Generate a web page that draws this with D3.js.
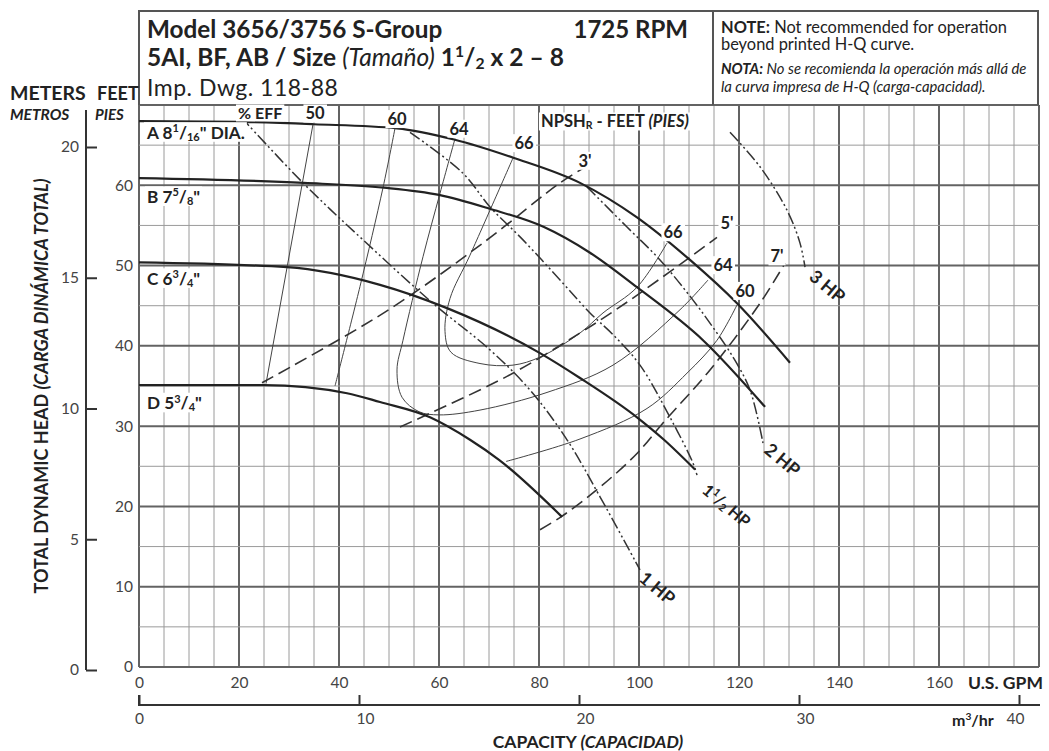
<!DOCTYPE html>
<meta charset="utf-8">
<style>
body { margin: 0; background: #fff; }
text { font-family: Lato, "Open Sans", sans-serif; fill: #222; }
.grid line { stroke: #9a9a9a; stroke-width: 1; }
.grid line.major { stroke: #636363; stroke-width: 2; }
.axis text { font-size: 15.5px; fill: #444; }
.axis path, .axis line { stroke: #333; stroke-width: 2; }
.head { fill: none; stroke: #222; stroke-width: 2.2; }
.eff { fill: none; stroke: #444; stroke-width: 1; }
.npsh { fill: none; stroke: #333; stroke-width: 1.6; stroke-dasharray: 13,6; }
.hp { fill: none; stroke: #333; stroke-width: 1.5; stroke-dasharray: 12,3,2,3,2,3; }
.lbl { font-weight: 700; }
</style>
<body>
<div id="chart"></div>
<script src="https://cdn.jsdelivr.net/npm/d3@7"></script>
<script>

// ---- data (GPM, feet) ----
var gpmTicks = [0, 20, 40, 60, 80, 100, 120, 140, 160];
var feetTicks = [0, 10, 20, 30, 40, 50, 60];
var meterTicks = [0, 5, 10, 15, 20];
var m3hrTicks = [0, 10, 20, 30, 40];

var headA = [[0,68],[20,67.9],[35,67.6],[51.6,67.1],[63,65.7],[75,63.4],[88.2,60.3],[99.6,56],[110.2,50.7],[119.6,45.3],[130.2,37.9]];
var headB = [[0,60.9],[33,60.3],[49,59.7],[60,58.8],[70,57.1],[81,54.8],[90.2,51.6],[99.6,47.3],[112.8,40.7],[125.2,32.4]];
var headC = [[0,50.4],[29.6,49.8],[48.2,47.6],[61.6,44.7],[80.2,39.1],[88.2,36],[99.6,31.1],[105,28.3],[111.2,24.6]];
var headD = [[0,35.1],[25,35.1],[41.6,34.1],[48.2,33],[58.2,31.1],[66.2,28.3],[72,25.8],[84.6,18.7]];

var eff50 = [[34.8,67.6],[25.4,35.3]];
var eff60a = [[51.2,67.1],[48.8,59.7],[44.2,47.4],[39.2,35]];
var eff60b = [[73.4,25.6],[88.2,28.4],[101.6,32.2],[109.6,36.6],[115.6,40.7],[119.6,45.1]];
var eff64 = [[63.2,65.8],[60.2,59],[56.8,51.1],[52.8,40.7],[51.6,37],[52.6,33.6],[56,31.8],[60,31.4],[68.2,32],[81.6,34.2],[94.8,37.6],[108.2,44.5],[113.8,48.2]];
var eff66 = [[74.8,63.4],[66.2,51.3],[62.2,45.9],[61.2,41.8],[62.4,39.2],[68.2,37.8],[74.8,37.6],[80.2,38.6],[88.2,41.6],[92.8,44.1],[99.6,47.3],[105.6,52.8]];

var npsh3 = [[24.6,35.4],[49.2,44.2],[69.2,53],[84.2,60.3],[88.8,62.1]];
var npsh5 = [[52.2,29.9],[73.6,36.2],[88.2,41.6],[98.2,45.7],[115.6,53.5]];
var npsh7 = [[80.2,17.1],[84.4,18.7],[92.2,22.4],[99.6,26.6],[104.8,30.4],[114.2,37],[124.2,45.3],[129.2,50.3]];

var hp1 = [[20.4,68.5],[32.8,60.3],[44.8,53.2],[58.8,45.3],[70.2,39.5],[78.2,34.5],[85.6,28.3],[92.2,21.2],[100.2,12.1]];
var hp15 = [[54.2,66.6],[64.8,61.5],[70.2,57.3],[76.8,53.2],[84.8,47.8],[90.2,44.1],[94.8,41.4],[100.2,37.6],[106.2,31.1],[110.8,25.4],[111.6,23.9]];
var hp2 = [[89.6,59.8],[97.6,54.8],[104.2,50.7],[110.8,45.7],[114.8,42.3],[118.8,38.6],[122.2,34.5],[124.8,27.9]];
var hp3 = [[118.2,66.6],[124.2,62.3],[129.6,56.9],[132.2,52.8],[133.2,49.8]];

// ---- layout ----
var W = 1049, H = 751;
var x = d3.scaleLinear().domain([0, 180]).range([139, 1039]);
var y = d3.scaleLinear().domain([0, 70]).range([667, 105]);
var yM = d3.scaleLinear().domain([0, 20]).range([670, 147]);
var xM = d3.scaleLinear().domain([0, 40]).range([139, 1019]);

var svg = d3.select("#chart").append("svg").attr("width", W).attr("height", H);

// rich text helper: parts = [[text, style]], style: b, i, bi, n, sup, sub
function rich(g, parts, fs) {
  var shift = 0;
  g.style("font-size", fs + "px");
  parts.forEach(function(p) {
    var st = p[1] || "";
    var target = st == "sup" ? -0.38 * fs : st == "sub" ? 0.12 * fs : 0;
    var t = g.append("tspan").text(p[0]).attr("dy", target - shift);
    shift = target;
    if (st == "sup" || st == "sub") t.style("font-size", (fs * 0.64) + "px");
    if (st.indexOf("i") >= 0) t.attr("font-style", "italic");
    if (st == "n" || st == "i") t.attr("font-weight", 400);
    if (st.indexOf("b") >= 0) t.attr("font-weight", 700);
  });
  return g;
}

// ---- grid ----
var grid = svg.append("g").attr("class", "grid");
grid.selectAll(".v").data(d3.range(0, 181, 5)).enter().append("line")
  .attr("class", function(d) { return d % 20 == 0 || d == 180 ? "major" : null; })
  .attr("x1", x).attr("x2", x).attr("y1", y(0)).attr("y2", y(70));
grid.selectAll(".h").data(d3.range(0, 71, 5)).enter().append("line")
  .attr("class", function(d) { return d % 10 == 0 ? "major" : null; })
  .attr("y1", y).attr("y2", y).attr("x1", x(0)).attr("x2", x(180));

// header box
var hdr = svg.append("g").attr("fill", "none").attr("stroke", "#555").attr("stroke-width", 2);
hdr.append("path").attr("d", "M139,105V11H1038V105");
hdr.append("line").attr("x1", 713).attr("x2", 713).attr("y1", 11).attr("y2", 105);

svg.append("text").attr("x", 147).attr("y", 38).attr("font-size", 24.3).attr("font-weight", 700)
  .text("Model 3656/3756 S-Group");
svg.append("text").attr("x", 688).attr("y", 38).attr("font-size", 24).attr("font-weight", 700)
  .attr("text-anchor", "end").text("1725 RPM");
rich(svg.append("text").attr("x", 147).attr("y", 66).attr("font-weight", 700),
  [["5AI, BF, AB / Size ", "b"], ["(Tamaño)", "i"], [" 1", "b"], ["1", "sup"], ["/", "b"], ["2", "sub"], [" x 2 – 8", "b"]], 24.5);
svg.append("text").attr("x", 147).attr("y", 96).attr("font-size", 23).attr("fill", "#333")
  .attr("font-family", "'Open Sans', sans-serif").attr("letter-spacing", 0.5)
  .text("Imp. Dwg. 118-88");

rich(svg.append("text").attr("x", 721).attr("y", 33),
  [["NOTE:", "b"], [" Not recommended for operation", "n"]], 16.4);
svg.append("text").attr("x", 721).attr("y", 50).attr("font-size", 16.4).text("beyond printed H-Q curve.");
rich(svg.append("text").attr("x", 721).attr("y", 74),
  [["NOTA:", "bi"], [" No se recomienda la operación más allá de", "i"]], 14.8);
svg.append("text").attr("x", 721).attr("y", 92).attr("font-size", 14.8).attr("font-style", "italic")
  .text("la curva impresa de H-Q (carga-capacidad).");

// ---- axes ----
svg.append("g").attr("class", "axis").attr("transform", "translate(139,0)")
  .call(d3.axisLeft(y).tickValues(feetTicks).tickSize(0).tickPadding(6))
  .call(function(g) { g.select(".domain").remove(); });

var mAx = svg.append("g").attr("class", "axis").attr("transform", "translate(86,0)")
  .call(d3.axisLeft(yM).tickValues(meterTicks).tickSizeInner(-11).tickSizeOuter(0).tickPadding(7));
mAx.select(".domain").attr("d", "M0,110V" + yM(0));

svg.append("g").attr("class", "axis").attr("transform", "translate(0," + y(0) + ")")
  .call(d3.axisBottom(x).tickValues(gpmTicks).tickSize(0).tickPadding(10))
  .call(function(g) { g.select(".domain").remove(); });

var m3 = svg.append("g").attr("class", "axis").attr("transform", "translate(0,705)")
  .call(d3.axisBottom(xM).tickValues(m3hrTicks).tickSizeInner(-10).tickSizeOuter(0).tickPadding(8));
m3.select(".domain").attr("d", "M139,-10V0H1040");
m3.selectAll(".tick text").attr("dx", function(d) { return d == 40 ? -4 : d == 0 ? 0 : 6; });

svg.append("text").attr("x", 968).attr("y", 689).attr("font-size", 17.5).attr("font-weight", 700).text("U.S. GPM");
rich(svg.append("text").attr("x", 952).attr("y", 726).attr("font-weight", 700),
  [["m", "b"], ["3", "sup"], ["/hr", "b"]], 16);
rich(svg.append("text").attr("x", 588).attr("y", 748).attr("text-anchor", "middle"),
  [["CAPACITY ", "b"], ["(CAPACIDAD)", "bi"]], 17.5);

svg.append("text").attr("x", 10).attr("y", 100).attr("font-size", 19.5).attr("font-weight", 700).text("METERS");
svg.append("text").attr("x", 97).attr("y", 100).attr("font-size", 18).attr("font-weight", 700).text("FEET");
svg.append("text").attr("x", 10).attr("y", 120).attr("font-size", 15.5).attr("font-weight", 700).attr("font-style", "italic").text("METROS");
svg.append("text").attr("x", 95).attr("y", 120).attr("font-size", 15).attr("font-weight", 700).attr("font-style", "italic").text("PIES");
rich(svg.append("text").attr("transform", "translate(48,386) rotate(-90)").attr("text-anchor", "middle"),
  [["TOTAL DYNAMIC HEAD ", "b"], ["(CARGA DINÁMICA TOTAL)", "bi"]], 18);

// ---- curves ----
var line = d3.line().x(function(d) { return x(d[0]); }).y(function(d) { return y(d[1]); })
  .curve(d3.curveCatmullRom.alpha(0.5));
var headLine = d3.line().x(function(d) { return x(d[0]); }).y(function(d) { return y(d[1]); })
  .curve(d3.curveMonotoneX);
var plot = svg.append("g");
[eff50, eff60a, eff60b, eff64, eff66].forEach(function(s) { plot.append("path").attr("class", "eff").attr("d", line(s)); });
[npsh3, npsh5, npsh7].forEach(function(s) { plot.append("path").attr("class", "npsh").attr("d", line(s)); });
[hp1, hp15, hp2, hp3].forEach(function(s) { plot.append("path").attr("class", "hp").attr("d", line(s)); });
[headA, headB, headC, headD].forEach(function(s) { plot.append("path").attr("class", "head").attr("d", headLine(s)); });

// ---- labels on plot ----
function boxed(t) {
  var b = t.node().getBBox();
  svg.insert("rect", function() { return t.node(); })
    .attr("x", b.x - 2).attr("y", b.y + 1).attr("width", b.width + 4).attr("height", b.height - 2).attr("fill", "#fff");
  return t;
}
function plain(s) { return [[s, "b"]]; }

var impLabels = [
  [65.8, [["A 8", "b"], ["1", "sup"], ["/", "b"], ["16", "sub"], ["\" DIA.", "b"]]],
  [57.8, [["B 7", "b"], ["5", "sup"], ["/", "b"], ["8", "sub"], ["\"", "b"]]],
  [47.6, [["C 6", "b"], ["3", "sup"], ["/", "b"], ["4", "sub"], ["\"", "b"]]],
  [32.1, [["D 5", "b"], ["3", "sup"], ["/", "b"], ["4", "sub"], ["\"", "b"]]]
];
impLabels.forEach(function(l) {
  boxed(rich(svg.append("text").attr("class", "lbl").attr("x", x(1.6)).attr("y", y(l[0])), l[1], 17.2));
});

var effTop = [["50", 35.2, 68.2], ["60", 51.6, 67.5], ["64", 64, 66.3], ["66", 77, 64.5]];
effTop.forEach(function(l) {
  boxed(rich(svg.append("text").attr("class", "lbl").attr("text-anchor", "middle").attr("x", x(l[1])).attr("y", y(l[2])), plain(l[0]), 16.5));
});
boxed(rich(svg.append("text").attr("class", "lbl").attr("x", x(19.8)).attr("y", y(68.2)), plain("% EFF"), 16));
boxed(rich(svg.append("text").attr("class", "lbl").attr("x", x(80.4)).attr("y", y(67.2)),
  [["NPSH", "b"], ["R", "sub"], [" - FEET ", "b"], ["(PIES)", "bi"]], 16.5));

var effRight = [["66", 106.8, 53.4], ["64", 116.8, 49.3], ["60", 121.2, 46.1]];
effRight.forEach(function(l) {
  boxed(rich(svg.append("text").attr("class", "lbl").attr("text-anchor", "middle").attr("x", x(l[1])).attr("y", y(l[2])), plain(l[0]), 16.5));
});
var npshLabels = [["3'", 89.2, 62.3], ["5'", 117.6, 54.5], ["7'", 127.6, 50.4]];
npshLabels.forEach(function(l) {
  boxed(rich(svg.append("text").attr("class", "lbl").attr("text-anchor", "middle").attr("x", x(l[1])).attr("y", y(l[2])), plain(l[0]), 16.5));
});

var hpLabels = [
  [99.8, 10.8, 18, [["1 HP", "b"]]],
  [112.4, 21.8, 16.5, [["1", "b"], ["1", "sup"], ["/", "b"], ["2", "sub"], [" HP", "b"]]],
  [124.8, 26.8, 18, [["2 HP", "b"]]],
  [133.8, 48.4, 18, [["3 HP", "b"]]]
];
hpLabels.forEach(function(l) {
  var t = svg.append("text").attr("class", "lbl")
    .attr("transform", "translate(" + x(l[0]) + "," + y(l[1]) + ") rotate(40)");
  rich(t, l[3], l[2]);
});

</script>
</body>
